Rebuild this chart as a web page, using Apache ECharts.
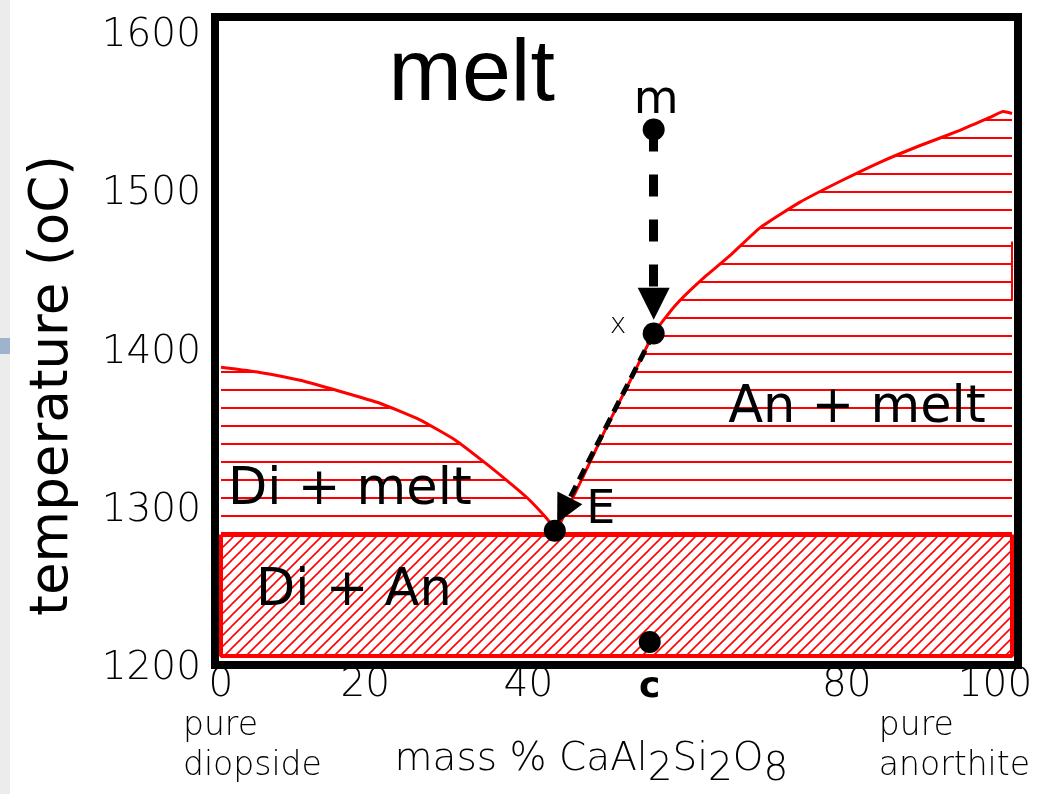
<!DOCTYPE html>
<html><head><meta charset="utf-8">
<script src="https://cdn.jsdelivr.net/npm/echarts@6/dist/echarts.min.js"></script>
<style>html,body{margin:0;padding:0;background:#fff}#c{width:1046px;height:794px}</style>
</head><body><div id="c"></div>
<script>
// ---------------- data ----------------
const xTicks = [0, 20, 40, 80, 100];
const yMin = 1200, yMax = 1600, yStep = 100;
// liquidus, diopside branch (pure Di -> eutectic E): mass % An, temperature (°C)
const diLiqX = [0, 4.9, 10.0, 15.0, 20.1, 25.2, 29.6, 33.4, 36.5, 38.7, 40.3, 41.5, 42.2];
const diLiqT = [1382.4, 1379.2, 1374.2, 1367.3, 1359.7, 1349.1, 1336.5, 1322.0, 1309.4, 1300, 1291.8, 1284.9, 1277];
// liquidus, anorthite branch (E -> pure An)
const anLiqX = [42.2, 45.4, 48.5, 51.7, 54.7, 57.4, 60.6, 64.3, 68.1, 73.2, 78.3, 83.3, 88.4, 93.4, 97.2, 98.9, 100];
const anLiqT = [1277, 1309.4, 1342.1, 1373.6, 1403.8, 1421.4, 1437.1, 1452.8, 1470.4, 1486.8, 1500, 1512, 1522.6, 1532.1, 1540.3, 1544, 1542.8];
const solidusT = 1276.7;
const compRange = [0, 100];
const edgeSegX = [100, 100];
const edgeSegT = [1424.5, 1462];
// labelled points
const pointNames = ['m', 'x', 'E', 'c'];
const pointX = [54.7, 54.7, 42.2, 54.2];
const pointT = [1532.7, 1403.8, 1279.2, 1208.8];
// crystallisation path arrows (start point, arrow-head centre)
const arrowFrom = [[54.7, 1532.7], [54.7, 1403.8]];
const arrowTo = [[54.7, 1422.6], [43.3, 1292]];
// annotations
const annoText = ['melt', 'm', 'x', 'E', 'An + melt', 'Di + melt', 'Di + An'];
const annoX = [31.7, 55.0, 50.2, 48.0, 80.4, 16.3, 16.8];
const annoT = [1566.7, 1550.9, 1408.8, 1291.8, 1356, 1304.4, 1240.3];
const cComp = pointX[3];

// ---------------- layout / style ----------------
const G = {left: 221, top: 23, right: 34, bottom: 135};
const W = 1046 - G.left - G.right, H = 794 - G.top - G.bottom;
const RED = '#ff0000';
const THIN = {fontFamily: 'DejaVu Sans', fontWeight: 200, color: '#000'};

function hatchH() {
  const c = document.createElement('canvas'); c.width = 8; c.height = 18;
  const g = c.getContext('2d'); g.fillStyle = RED; g.fillRect(0, 11, 8, 2);
  return c;
}
function hatchD() {
  const s = 11, c = document.createElement('canvas'); c.width = s; c.height = s;
  const g = c.getContext('2d'); g.fillStyle = '#fff'; g.fillRect(0, 0, s, s);
  g.strokeStyle = RED; g.lineWidth = 1.6;
  for (const k of [0, s, 2 * s]) { g.beginPath(); g.moveTo(k - s - 2, s + 2); g.lineTo(k + 2, -2); g.stroke(); }
  return c;
}

const annoStyle = {
  'melt': {fontFamily: 'Liberation Sans', fontSize: 88},
  'm': {fontFamily: 'DejaVu Sans', fontSize: 46},
  'x': {fontFamily: 'DejaVu Sans', fontWeight: 200, fontSize: 28},
  'E': {fontFamily: 'DejaVu Sans', fontSize: 46},
  'An + melt': {fontFamily: 'DejaVu Sans', fontSize: 51},
  'Di + melt': {fontFamily: 'DejaVu Sans', fontSize: 51},
  'Di + An': {fontFamily: 'DejaVu Sans', fontSize: 51}
};

const xShift = {0: 0, 20: 28, 40: 18, 80: 14, 100: 34};
const xRich = {c: {fontFamily: 'DejaVu Sans', fontWeight: 'bold', fontSize: 36, color: '#000', padding: [4, 0, 0, 0]}};
xTicks.forEach(v => { xRich['t' + v] = Object.assign({fontSize: 39, padding: [0, xShift[v], 0, 0]}, THIN); });

const subRich = {
  n: Object.assign({fontSize: 39, padding: [0, 0, 10, 0]}, THIN),
  s: Object.assign({fontSize: 39, padding: [10, 0, 0, 0]}, THIN)
};

const liqSeries = (xs, ts) => ({
  type: 'line', silent: true, showSymbol: false, z: 2,
  smooth: 0.15,
  data: xs.map((x, i) => [x, ts[i]]),
  lineStyle: {color: RED, width: 3},
  itemStyle: {color: RED},
  areaStyle: {origin: 'start', opacity: 1, color: {image: hatchH(), repeat: 'repeat'}}
});

const chart = echarts.init(document.getElementById('c'), null, {renderer: 'canvas'});
chart.setOption({
  animation: false,
  backgroundColor: '#fff',
  textStyle: {color: '#000'},
  grid: {left: G.left, top: G.top, right: G.right, bottom: G.bottom, show: false},
  xAxis: {
    type: 'value', min: compRange[0], max: compRange[1], interval: 20,
    axisLine: {show: false}, axisTick: {show: false}, splitLine: {show: false},
    axisLabel: {
      customValues: xTicks.slice(0, 3).concat([cComp], xTicks.slice(3)),
      margin: 10,
      formatter: v => v === cComp ? '{c|c}' : '{t' + v + '|' + v + '}',
      rich: xRich
    },
    name: '{n|mass % CaAl}{s|2}{n|Si}{s|2}{n|O}{s|8}',
    nameLocation: 'middle', nameGap: 84,
    nameTextStyle: {rich: subRich, padding: [0, 50, 0, 0]}
  },
  yAxis: {
    type: 'value', min: yMin, max: yMax, interval: yStep,
    axisLine: {show: false}, axisTick: {show: false}, splitLine: {show: false},
    axisLabel: {
      margin: 20,
      formatter: v => '{a|' + v + '}',
      rich: {a: Object.assign({fontSize: 39, padding: [26, 0, 0, 0]}, THIN)}
    },
    name: 'temperature (oC)', nameLocation: 'middle', nameRotate: 90, nameGap: 141,
    nameTextStyle: {fontFamily: 'DejaVu Sans', fontSize: 53, color: '#000', padding: [0, 92, 0, 0]}
  },
  graphic: [
    {type: 'rect', shape: {x: 0, y: 0, width: 10, height: 794}, style: {fill: '#ececec'}, silent: true},
    {type: 'rect', shape: {x: 0, y: 338, width: 10, height: 16}, style: {fill: '#9fb4cc'}, silent: true},
    {type: 'rect', shape: {x: G.left - 6, y: G.top - 6, width: W + 12, height: H + 12},
     style: {fill: 'none', stroke: '#000', lineWidth: 8}, z: 10, silent: true},
    {type: 'text', left: 183, top: 706, silent: true,
     style: {text: 'pure\ndiopside', fontFamily: 'DejaVu Sans', fontWeight: 200, fontSize: 33, lineHeight: 40, fill: '#000'}},
    {type: 'text', right: 16, top: 706, silent: true,
     style: {text: 'pure\nanorthite', align: 'right', fontFamily: 'DejaVu Sans', fontWeight: 200, fontSize: 33, lineHeight: 40, fill: '#000'}}
  ],
  series: [
    liqSeries(diLiqX, diLiqT),
    liqSeries(anLiqX, anLiqT),
    { // solidus: Di + An field
      type: 'line', silent: true, showSymbol: false, z: 3, clip: false,
      data: compRange.map(x => [x, solidusT]),
      lineStyle: {color: RED, width: 5},
      itemStyle: {color: RED},
      areaStyle: {origin: 'start', opacity: 1, color: {image: hatchD(), repeat: 'repeat'}}
    },
    { // outline of the Di + An field
      type: 'line', silent: true, showSymbol: false, z: 3, clip: false,
      data: [[compRange[0], solidusT], [compRange[0], yMin], [compRange[1], yMin], [compRange[1], solidusT]],
      lineStyle: {color: RED, width: 4}
    },
    {
      type: 'line', silent: true, showSymbol: false, z: 3, clip: false,
      data: edgeSegX.map((x, i) => [x, edgeSegT[i]]),
      lineStyle: {color: RED, width: 2}
    },
    {
      type: 'lines', coordinateSystem: 'cartesian2d', silent: true, z: 5,
      data: [{coords: [arrowFrom[0], arrowTo[0]]}],
      symbol: ['none', 'triangle'], symbolSize: 32,
      lineStyle: {color: '#000', width: 9, type: [22, 23], opacity: 1}
    },
    {
      type: 'lines', coordinateSystem: 'cartesian2d', silent: true, z: 5,
      data: [{coords: [arrowFrom[1], arrowTo[1]]}],
      symbol: ['none', 'triangle'], symbolSize: 28,
      lineStyle: {color: '#000', width: 5, type: [12, 7], opacity: 1}
    },
    {
      type: 'scatter', silent: true, z: 6, symbolSize: 22,
      data: pointX.map((x, i) => ({name: pointNames[i], value: [x, pointT[i]]})),
      itemStyle: {color: '#000', opacity: 1}
    },
    {
      type: 'scatter', silent: true, z: 7, symbolSize: 0,
      label: {show: true, position: 'inside', formatter: '{b}', color: '#000', textBorderWidth: 0, opacity: 1},
      data: annoText.map((t, i) => ({
        name: t, value: [annoX[i], annoT[i]],
        label: Object.assign({show: true, position: 'inside', formatter: '{b}', color: '#000', textBorderWidth: 0, fontWeight: 'normal'}, annoStyle[t])
      })),
      itemStyle: {color: '#000', opacity: 0}
    }
  ]
});
</script>
</body></html>
